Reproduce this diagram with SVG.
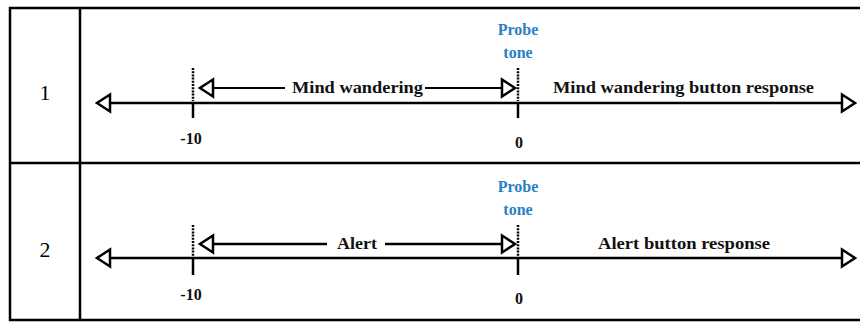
<svg xmlns="http://www.w3.org/2000/svg" width="860" height="322" viewBox="0 0 860 322">
<style>
.grid{stroke:#000;stroke-width:2.5;fill:none}
.axis{stroke:#000;stroke-width:2.5;fill:none}
.span{stroke:#000;stroke-width:2.2;fill:none}
.tick{stroke:#000;stroke-width:2.5}
.dash{stroke:#000;stroke-width:2.5;stroke-dasharray:2 1.2}
.lbl{font-family:"Liberation Serif",serif;font-weight:bold;font-size:17px;fill:#111}
.num{font-family:"Liberation Serif",serif;font-size:22px;fill:#000}
.tm{font-family:"Liberation Serif",serif;font-weight:bold;font-size:16px;fill:#111;text-anchor:middle}
.probe{font-family:"Liberation Serif",serif;font-weight:bold;font-size:16px;fill:#2b7fc3;text-anchor:middle}
</style>
<defs>
<marker id="open" viewBox="0 0 18 22" refX="16" refY="11" markerWidth="18" markerHeight="22" markerUnits="userSpaceOnUse" orient="auto-start-reverse">
<path d="M16,11 L3,2.5 L3,19.5 Z" fill="#fff" stroke="#000" stroke-width="2.5" stroke-linejoin="miter"/>
</marker>
</defs>
<rect width="860" height="322" fill="#fff"/>
<g id="table">
<path class="grid" d="M860,8 H10 V320 H860 M80,8 V320 M10,163 H860"/>
</g>
<g id="row1">
<text class="num" x="45" y="100" text-anchor="middle">1</text>
<text class="probe" x="518" y="35">Probe</text>
<text class="probe" x="518" y="58">tone</text>
<text class="tm" x="191" y="144">-10</text>
<text class="tm" x="519" y="148">0</text>
<text class="lbl" x="292" y="93" textLength="131" lengthAdjust="spacingAndGlyphs">Mind wandering</text>
<text class="lbl" x="553" y="93" textLength="261" lengthAdjust="spacingAndGlyphs">Mind wandering button response</text>
</g>
<g id="row2">
<text class="num" x="45" y="257" text-anchor="middle">2</text>
<text class="probe" x="518" y="192">Probe</text>
<text class="probe" x="518" y="215">tone</text>
<text class="tm" x="191" y="300">-10</text>
<text class="tm" x="519" y="304">0</text>
<text class="lbl" x="337" y="249" textLength="40" lengthAdjust="spacingAndGlyphs" font-weight="normal">Alert</text>
<text class="lbl" x="598" y="249" textLength="172" lengthAdjust="spacingAndGlyphs">Alert button response</text>
</g>
<g id="connectors">
<line class="axis" x1="97" y1="103" x2="855" y2="103" marker-start="url(#open)" marker-end="url(#open)"/>
<line class="tick" x1="193" y1="103" x2="193" y2="118"/>
<line class="tick" x1="518" y1="103" x2="518" y2="118"/>
<line class="dash" x1="193" y1="68" x2="193" y2="101"/>
<line class="dash" x1="518" y1="68" x2="518" y2="101"/>
<line class="span" x1="200" y1="88" x2="285" y2="88" marker-start="url(#open)"/>
<line class="span" x1="425" y1="88" x2="515" y2="88" marker-end="url(#open)"/>
<line class="axis" x1="97" y1="258" x2="855" y2="258" marker-start="url(#open)" marker-end="url(#open)"/>
<line class="tick" x1="193" y1="258" x2="193" y2="275"/>
<line class="tick" x1="518" y1="258" x2="518" y2="275"/>
<line class="dash" x1="193" y1="225" x2="193" y2="256"/>
<line class="dash" x1="518" y1="225" x2="518" y2="256"/>
<line class="axis" x1="200" y1="244" x2="327" y2="244" marker-start="url(#open)"/>
<line class="axis" x1="385" y1="244" x2="515" y2="244" marker-end="url(#open)"/>
</g>
</svg>
